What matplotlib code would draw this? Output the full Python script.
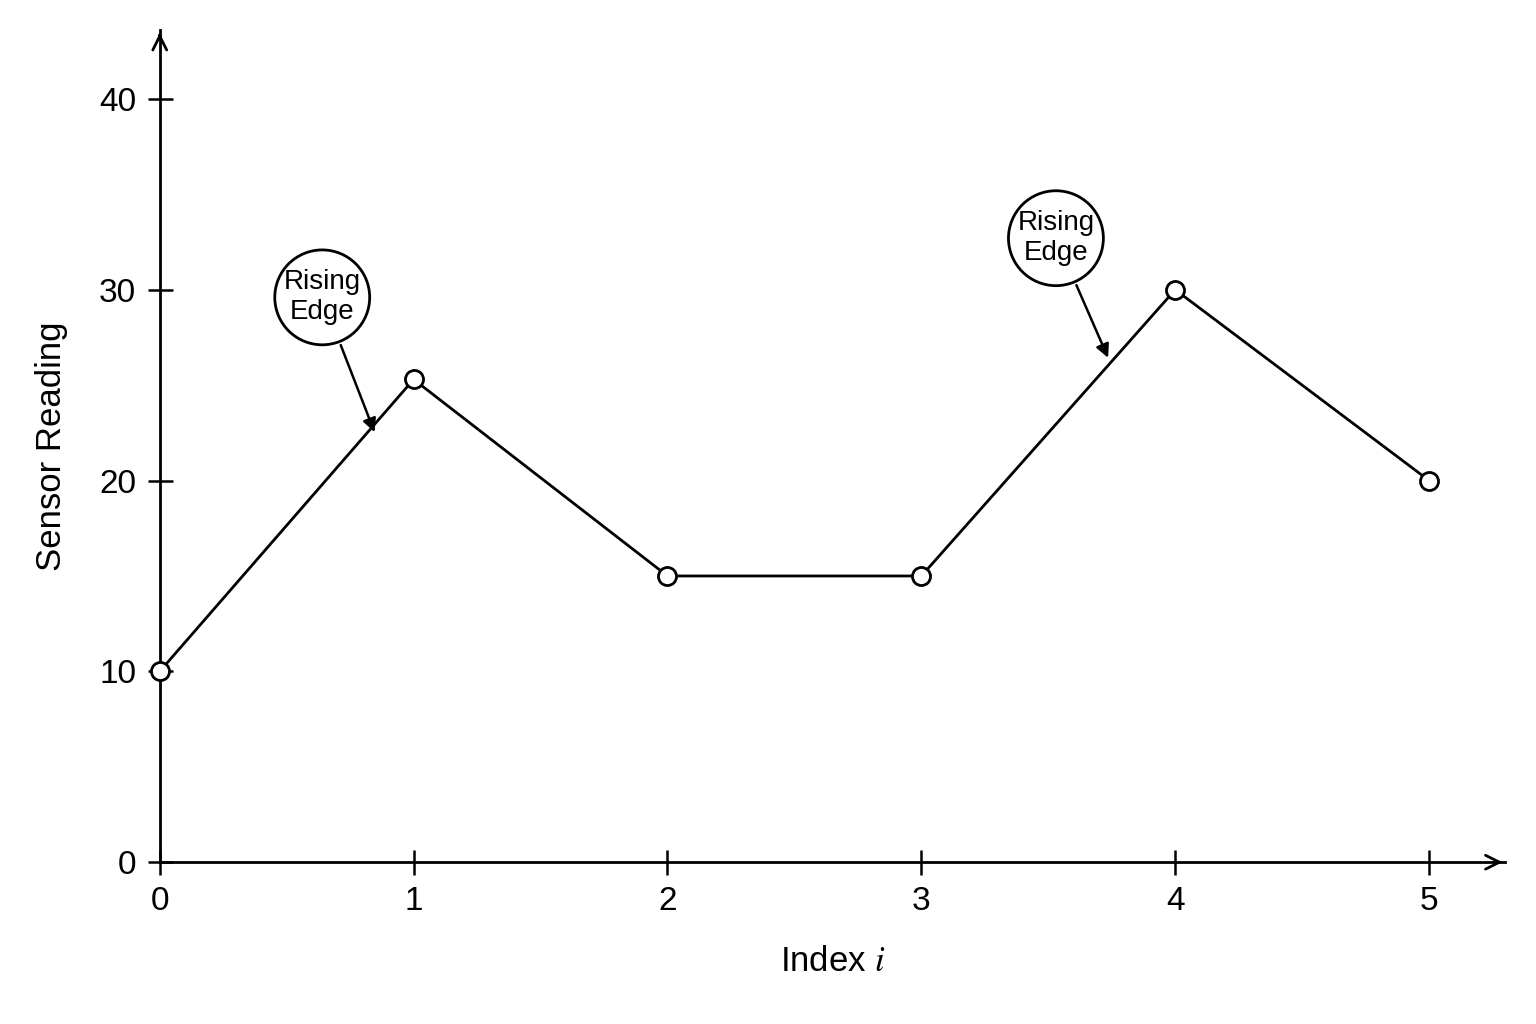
import matplotlib.pyplot as plt

plt.rcParams["font.family"] = ["Liberation Sans", "DejaVu Sans"]
plt.rcParams["mathtext.fontset"] = "stix"

# data
index = [0, 1, 2, 3, 4, 5]
reading = [10, 25.3, 15, 15, 30, 20]
yticks = [0, 10, 20, 30, 40]

# annotations: (label position, arrow tip)
notes = [((0.64, 29.6), (0.85, 22.4)),
         ((3.53, 32.7), (3.74, 26.3))]

fig = plt.figure(figsize=(15.36, 10.24), dpi=100)
ax = fig.add_axes([0.104, 0.158, 0.876, 0.8125])

ax.plot(index, reading, color="black", lw=2, marker="o", ms=13,
        mfc="white", mec="black", mew=2, zorder=3, clip_on=False)

ax.set_xlim(0, 5.3)
ax.set_ylim(0, 43.6)
ax.set_xticks(index)
ax.set_yticks(yticks)
ax.tick_params(direction="inout", length=18, width=1.8, labelsize=24, pad=8)

for s in ["top", "right"]:
    ax.spines[s].set_visible(False)
for s in ["left", "bottom"]:
    ax.spines[s].set_linewidth(2)

# axis arrows
ax.annotate("", xy=(1.0, 0), xytext=(0.99, 0), xycoords="axes fraction",
            arrowprops=dict(arrowstyle="->", lw=2, color="black", mutation_scale=25))
ax.annotate("", xy=(0, 1.0), xytext=(0, 0.99), xycoords="axes fraction",
            arrowprops=dict(arrowstyle="->", lw=2, color="black", mutation_scale=25))

ax.set_xlabel("Index $i$", fontsize=25, labelpad=20)
ax.set_ylabel("Sensor Reading", fontsize=25, labelpad=22)

for (tx, ty), (px, py) in notes:
    ax.annotate("Rising\nEdge", xy=(px, py), xytext=(tx, ty), fontsize=20,
                ha="center", va="center", linespacing=1.2,
                bbox=dict(boxstyle="circle,pad=0.32", fc="white", ec="black", lw=2),
                arrowprops=dict(arrowstyle="-|>", lw=1.8, color="black", mutation_scale=20))

fig.savefig("out.png", dpi=100)
